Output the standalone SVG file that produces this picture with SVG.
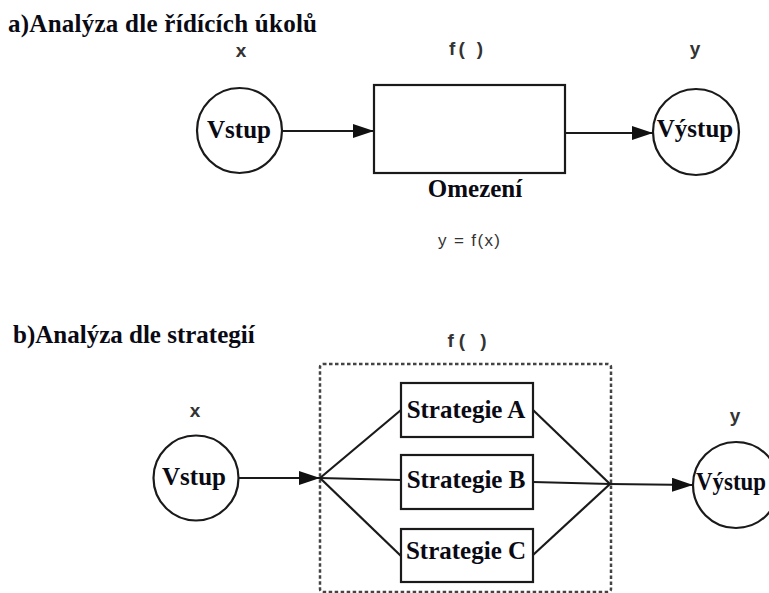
<svg xmlns="http://www.w3.org/2000/svg" width="769" height="593" viewBox="0 0 769 593">
  <style>
    .bg { fill: #ffffff; }
    .node { fill: #ffffff; stroke: #1a1a1a; stroke-width: 2.2; }
    .serif { font-family: "Liberation Serif", "Times New Roman", serif; font-weight: bold; font-size: 25px; fill: #0a0a14; }
    .lbl { font-family: "Liberation Sans", Arial, sans-serif; font-weight: bold; font-size: 19px; fill: #333333; }
    .formula { font-family: "Liberation Sans", Arial, sans-serif; font-size: 17px; fill: #333333; }
    .conn { fill: none; stroke: #1a1a1a; stroke-width: 2.2; }
    .dotted { fill: none; stroke: #444444; stroke-width: 2.5; stroke-dasharray: 3.5 2.5; }
  </style>
  <defs>
    <marker id="arrow" viewBox="0 0 21 14" refX="21" refY="7" markerWidth="21" markerHeight="14" markerUnits="userSpaceOnUse" orient="auto">
      <path d="M0,0 L21,7 L0,14 z" fill="#111111"/>
    </marker>
  </defs>
  <rect class="bg" x="0" y="0" width="769" height="593"/>

  <!-- Part a -->
  <text class="serif" x="8" y="32" textLength="309" lengthAdjust="spacing">a)Analýza dle řídících úkolů</text>
  <text class="lbl" x="241" y="57" text-anchor="middle">x</text>
  <text class="lbl" x="466" y="55" text-anchor="middle" textLength="34" lengthAdjust="spacing">f( )</text>
  <text class="lbl" x="695" y="55" text-anchor="middle">y</text>

  <g id="vstup-a">
    <circle class="node" cx="239.5" cy="130.5" r="42.5"/>
    <text class="serif" x="239" y="138" text-anchor="middle">Vstup</text>
  </g>
  <g id="box-a">
    <rect class="node" x="374" y="85" width="191" height="88"/>
    <text class="serif" x="475" y="197" text-anchor="middle">Omezení</text>
    <text class="formula" x="469" y="246" text-anchor="middle" textLength="62" lengthAdjust="spacing">y = f(x)</text>
  </g>
  <g id="vystup-a">
    <circle class="node" cx="696" cy="132" r="43"/>
    <text class="serif" x="695" y="137" text-anchor="middle">Výstup</text>
  </g>

  <!-- Part b -->
  <text class="serif" x="13" y="343">b)Analýza dle strategií</text>
  <text class="lbl" x="467" y="347" text-anchor="middle" textLength="39" lengthAdjust="spacing">f( )</text>
  <text class="lbl" x="195" y="417" text-anchor="middle">x</text>
  <text class="lbl" x="735" y="422" text-anchor="middle">y</text>

  <g id="strategie-group">
    <rect class="dotted" x="320" y="364" width="291" height="228" rx="3"/>
  </g>
  <g id="vstup-b">
    <circle class="node" cx="196" cy="478" r="42.5"/>
    <text class="serif" x="194" y="485" text-anchor="middle">Vstup</text>
  </g>
  <g id="strategie-a">
    <rect class="node" x="401" y="383" width="132" height="54"/>
    <text class="serif" x="466" y="418" text-anchor="middle">Strategie A</text>
  </g>
  <g id="strategie-b">
    <rect class="node" x="401" y="455" width="132" height="54"/>
    <text class="serif" x="466" y="488" text-anchor="middle">Strategie B</text>
  </g>
  <g id="strategie-c">
    <rect class="node" x="401" y="529" width="132" height="53"/>
    <text class="serif" x="466" y="559" text-anchor="middle">Strategie C</text>
  </g>
  <g id="vystup-b">
    <circle class="node" cx="736" cy="485" r="43"/>
    <text class="serif" x="696" y="490" textLength="70" lengthAdjust="spacingAndGlyphs">Výstup</text>
  </g>

  <g id="connectors">
    <line class="conn" x1="282" y1="131" x2="374" y2="131" marker-end="url(#arrow)"/>
    <line class="conn" x1="565" y1="133" x2="653" y2="133" marker-end="url(#arrow)"/>
    <line class="conn" x1="238.5" y1="478" x2="320" y2="478" marker-end="url(#arrow)"/>
    <line class="conn" x1="320" y1="478" x2="401" y2="410"/>
    <line class="conn" x1="320" y1="478" x2="401" y2="480"/>
    <line class="conn" x1="320" y1="478" x2="401" y2="556"/>
    <line class="conn" x1="533" y1="410" x2="610" y2="484"/>
    <line class="conn" x1="533" y1="482" x2="610" y2="484"/>
    <line class="conn" x1="533" y1="555" x2="610" y2="484"/>
    <line class="conn" x1="610" y1="484" x2="693" y2="485" marker-end="url(#arrow)"/>
  </g>
</svg>
